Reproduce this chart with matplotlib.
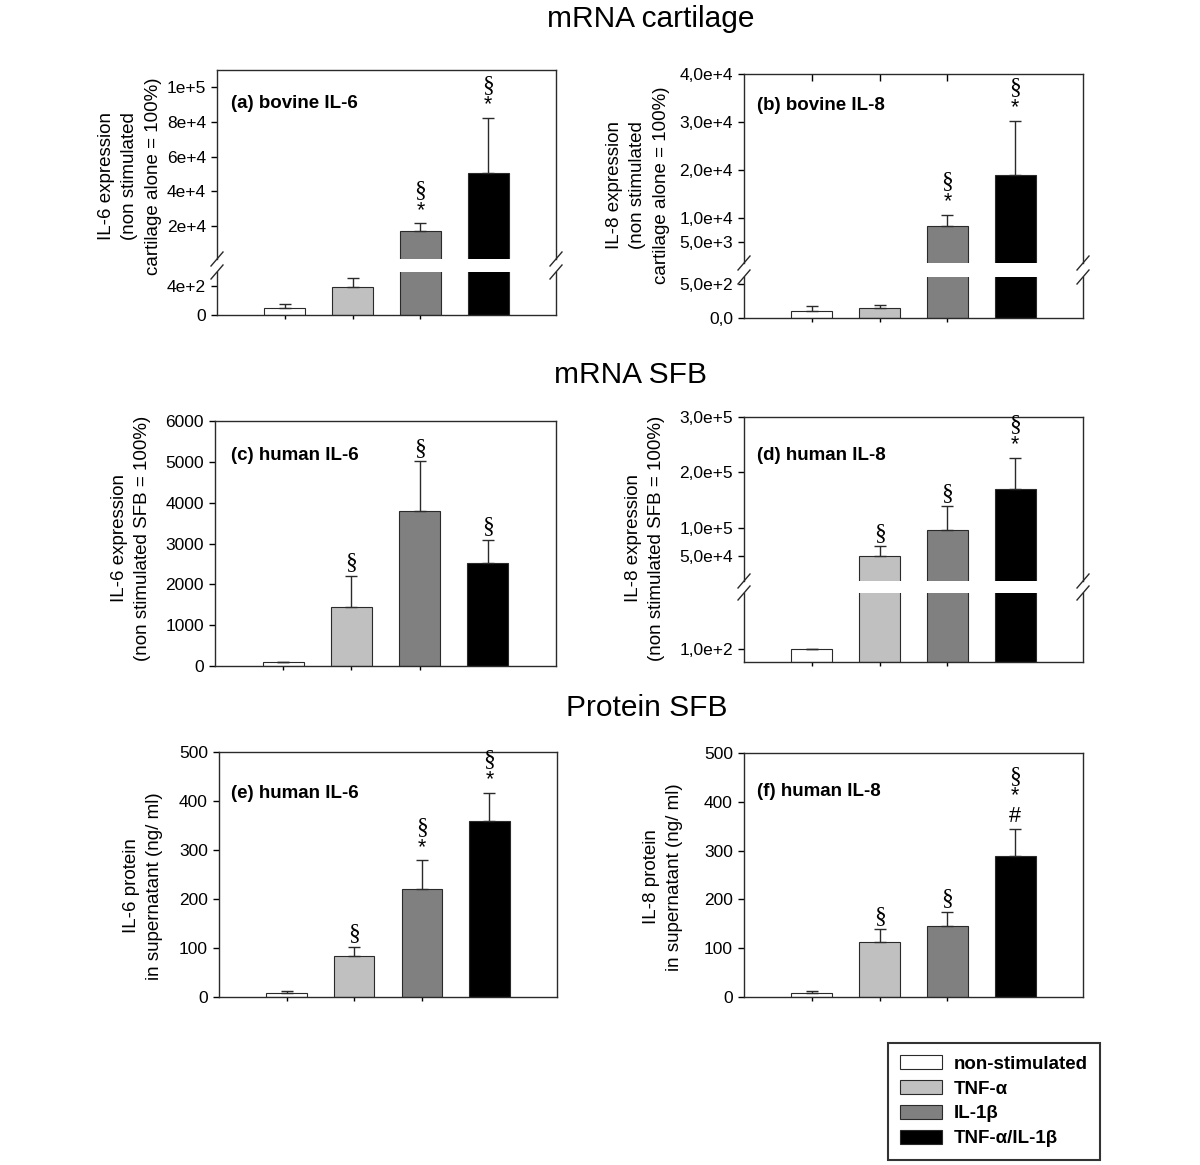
import matplotlib
matplotlib.use('Agg')
import matplotlib.pyplot as plt
from matplotlib.lines import Line2D
from matplotlib.patches import Patch

plt.rcParams['font.family'] = ['Liberation Sans', 'DejaVu Sans']

W, H = 1200, 1165

groups = ['non-stimulated', 'TNF-α', 'IL-1β', 'TNF-α/IL-1β']
bar_colors = ['white', '#c0c0c0', '#808080', 'black']
xpos = [1, 2, 3, 4]

# (a) bovine IL-6, mRNA cartilage
a_mean = [100, 390, 17200, 50800]
a_err = [56, 130, 4300, 31400]
a_marks = ['', '', '§*', '§*']
a_up_ticks = [2e4, 4e4, 6e4, 8e4, 1e5]
a_up_labels = ['2e+4', '4e+4', '6e+4', '8e+4', '1e+5']
a_lo_ticks = [0, 400]
a_lo_labels = ['0', '4e+2']

# (b) bovine IL-8, mRNA cartilage
b_mean = [100, 150, 8400, 18900]
b_err = [80, 35, 2300, 11400]
b_marks = ['', '', '§*', '§*']
b_up_ticks = [5e3, 1e4, 2e4, 3e4, 4e4]
b_up_labels = ['5,0e+3', '1,0e+4', '2,0e+4', '3,0e+4', '4,0e+4']
b_lo_ticks = [0, 500]
b_lo_labels = ['0,0', '5,0e+2']

# (c) human IL-6, mRNA SFB
c_mean = [100, 1440, 3800, 2530]
c_err = [0, 770, 1210, 560]
c_marks = ['', '§', '§', '§']
c_ticks = [0, 1000, 2000, 3000, 4000, 5000, 6000]

# (d) human IL-8, mRNA SFB
d_mean = [100, 50000, 96400, 171000]
d_err = [0, 17400, 42400, 55400]
d_marks = ['', '§', '§', '§*']
d_up_ticks = [5e4, 1e5, 2e5, 3e5]
d_up_labels = ['5,0e+4', '1,0e+5', '2,0e+5', '3,0e+5']
d_lo_ticks = [100]
d_lo_labels = ['1,0e+2']

# (e) human IL-6 protein
e_mean = [8, 83, 220, 359]
e_err = [5, 19, 59, 58]
e_marks = ['', '§', '§*', '§*']

# (f) human IL-8 protein
f_mean = [7.5, 112, 145, 289]
f_err = [5.5, 27, 30, 55]
f_marks = ['', '§', '§', '§*#']
prot_ticks = [0, 100, 200, 300, 400, 500]


def rect(x0, y0, x1, y1):
    return [x0 / W, 1 - y1 / H, (x1 - x0) / W, (y1 - y0) / H]


def fx(x):
    return x / W


def fy(y):
    return 1 - y / H


fig = plt.figure(figsize=(12, 11.65), dpi=100)

edge = '#2a2a2a'


def draw_bars(ax, mean, err, floor=None):
    idx = [i for i in range(4) if floor is None or mean[i] > floor]
    xs = [xpos[i] for i in idx]
    ms = [mean[i] for i in idx]
    es = [err[i] for i in idx]
    cs = [bar_colors[i] for i in idx]
    ax.bar(xs, ms, width=0.6, color=cs, edgecolor=edge,
           linewidth=0.8, zorder=2)
    ax.errorbar(xs, ms, yerr=[[0] * len(xs), es], fmt='none', ecolor=edge,
                elinewidth=1, capsize=4, capthick=1, zorder=3)


def style(ax):
    ax.set_xlim(0, 5)
    ax.tick_params(axis='y', direction='out', length=4, width=1, pad=4,
                   labelsize=12.5, colors='black')
    ax.tick_params(axis='x', direction='out', length=3, width=1,
                   labelbottom=False)
    ax.set_xticks([1, 2, 3])
    for s in ax.spines.values():
        s.set_linewidth(1)
        s.set_color(edge)


def marks(ax, mean, err, labels):
    for x, m, e, lab in zip(xpos, mean, err, labels):
        off = 13
        for ch in reversed(lab):
            if ch == '§':
                fp = dict(family=['Liberation Serif'], fontsize=17)
            else:
                fp = dict(fontsize=15.5)
            ax.annotate(ch, xy=(x, m + e), xytext=(0, off),
                        textcoords='offset pixels', ha='center', va='center',
                        annotation_clip=False, **fp)
            off += 20


def simple_panel(box, mean, err, labs, ylim, ticks):
    ax = fig.add_axes(rect(*box))
    draw_bars(ax, mean, err)
    style(ax)
    ax.set_ylim(*ylim)
    ax.set_yticks(ticks)
    marks(ax, mean, err, labs)
    return ax


def broken_panel(box, y_up_bot, y_lo_top, mean, err, labs, up_lim, lo_lim,
                 up_ticks, up_labels, lo_ticks, lo_labels):
    x0, y0, x1, y1 = box
    up = fig.add_axes(rect(x0, y0, x1, y_up_bot))
    lo = fig.add_axes(rect(x0, y_lo_top, x1, y1))
    draw_bars(up, mean, err, floor=up_lim[0])
    draw_bars(lo, mean, err)
    style(up)
    style(lo)
    up.set_ylim(*up_lim)
    lo.set_ylim(*lo_lim)
    up.set_yticks(up_ticks, up_labels)
    lo.set_yticks(lo_ticks, lo_labels)
    up.spines['bottom'].set_visible(False)
    up.tick_params(axis='x', bottom=False, length=0)
    lo.spines['top'].set_visible(False)
    marks(up, mean, err, labs)
    # break marks on both spines
    for xx in (x0, x1):
        for yy in (y_up_bot, y_lo_top):
            fig.add_artist(Line2D([fx(xx - 6), fx(xx + 6)],
                                  [fy(yy + 7), fy(yy - 7)],
                                  color=edge, lw=1))
    return up, lo


def panel_label(x, y, s):
    fig.text(fx(x), fy(y), s, fontsize=13.5, fontweight='bold',
             ha='left', va='center')


def ylabel(x, y, s):
    fig.text(fx(x), fy(y), s, fontsize=13.5, rotation=90, ha='center',
             va='center', multialignment='center', linespacing=1.5)


# row titles
fig.text(fx(651), fy(19), 'mRNA cartilage', fontsize=21.5, ha='center', va='center')
fig.text(fx(631), fy(375), 'mRNA SFB', fontsize=21.5, ha='center', va='center')
fig.text(fx(647), fy(708), 'Protein SFB', fontsize=21.5, ha='center', va='center')

# (a)
broken_panel((217, 70, 556, 315), 259, 272, a_mean, a_err, a_marks,
             (900, 110000), (0, 600), a_up_ticks, a_up_labels,
             a_lo_ticks, a_lo_labels)
panel_label(231, 103, '(a) bovine IL-6')
ylabel(130, 176, 'IL-6 expression\n(non stimulated\ncartilage alone = 100%)')

# (b)
up_b, lo_b = broken_panel((744, 74, 1083, 318), 263, 277, b_mean, b_err,
                          b_marks, (700, 40000), (0, 600), b_up_ticks,
                          b_up_labels, b_lo_ticks, b_lo_labels)
up_b.tick_params(axis='x', bottom=False, top=True, direction='in', length=5)
panel_label(757, 105, '(b) bovine IL-8')
ylabel(638, 185, 'IL-8 expression\n(non stimulated\ncartilage alone = 100%)')

# (c)
simple_panel((215, 421, 556, 666), c_mean, c_err, c_marks, (0, 6000), c_ticks)
panel_label(231, 455, '(c) human IL-6')
ylabel(131, 538, 'IL-6 expression\n(non stimulated SFB = 100%)')

# (d)
broken_panel((744, 417, 1083, 662), 581, 593, d_mean, d_err, d_marks,
             (4500, 300000), (0, 515), d_up_ticks, d_up_labels,
             d_lo_ticks, d_lo_labels)
panel_label(757, 455, '(d) human IL-8')
ylabel(645, 538, 'IL-8 expression\n(non stimulated SFB = 100%)')

# (e)
simple_panel((219, 752, 557, 997), e_mean, e_err, e_marks, (0, 500), prot_ticks)
panel_label(231, 793, '(e) human IL-6')
ylabel(143, 886, 'IL-6 protein\nin supernatant (ng/ ml)')

# (f)
simple_panel((744, 753, 1083, 997), f_mean, f_err, f_marks, (0, 500), prot_ticks)
panel_label(757, 792, '(f) human IL-8')
ylabel(663, 877, 'IL-8 protein\nin supernatant (ng/ ml)')

# legend
handles = [Patch(facecolor=c, edgecolor=edge, linewidth=0.8) for c in bar_colors]
leg = fig.legend(handles, groups, loc='upper left',
                 bbox_to_anchor=(fx(888), fy(1043)), borderaxespad=0,
                 frameon=True, fancybox=False, edgecolor='black',
                 handlelength=2.25, handleheight=0.75, handletextpad=0.6,
                 labelspacing=0.4, borderpad=0.65,
                 prop=dict(size=13.5, weight='bold'))
leg.get_frame().set_linewidth(1.5)

fig.savefig('out.png', dpi=100, facecolor='white')
